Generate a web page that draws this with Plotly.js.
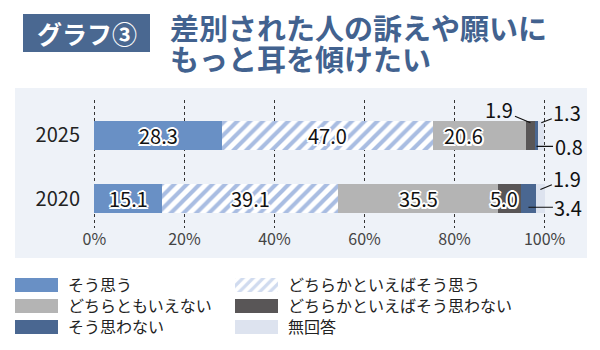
<!DOCTYPE html>
<html>
<head>
<meta charset="utf-8">
<script src="https://cdn.plot.ly/plotly-3.0.1.min.js"></script>
<style>
  html, body { margin: 0; padding: 0; background: #ffffff; }
  #chart { width: 600px; height: 350px; }
</style>
</head>
<body>
<div id="chart"></div>
<script>
// ---- data ----
const years = ['2020', '2025'];
const seriesNames = ['そう思う', 'どちらかといえばそう思う', 'どちらともいえない', 'どちらかといえばそう思わない', 'そう思わない', '無回答'];
const agree = [15.1, 28.3];
const ratherAgree = [39.1, 47.0];
const neutral = [35.5, 20.6];
const ratherDisagree = [5.0, 1.9];
const disagree = [3.4, 0.8];
const noAnswer = [1.9, 1.3];
const xTickVals = [0, 20, 40, 60, 80, 100];
const xTickText = ['0%', '20%', '40%', '60%', '80%', '100%'];
const titleTag = 'グラフ③';
const titleLine1 = '差別された人の訴えや願いに';
const titleLine2 = 'もっと耳を傾けたい';

// ---- style ----
const allSeries = [agree, ratherAgree, neutral, ratherDisagree, disagree, noAnswer];
const colors = ['#6990c5', '#ffffff', '#b4b4b4', '#595657', '#4a6791', '#dde3ef'];
const FONT = '"Noto Sans CJK JP", "Noto Sans", sans-serif';
const outline = '#fff 2px 0 0, #fff -2px 0 0, #fff 0 2px 0, #fff 0 -2px 0, #fff 1.5px 1.5px 0, #fff -1.5px -1.5px 0, #fff 1.5px -1.5px 0, #fff -1.5px 1.5px 0';
const BAR_W = 0.457;

// plot-area geometry helpers (pixels -> paper)
const PL = 93, PR = 546, PT = 100, PB = 228;
const fx = p => (p - PL) / (PR - PL);
const fy = p => (PB - p) / (PB - PT);

const traces = allSeries.map((vals, i) => {
  const t = {
    type: 'bar',
    orientation: 'h',
    name: seriesNames[i],
    y: years,
    x: vals,
    width: BAR_W,
    marker: { color: colors[i], line: { width: 0 } },
    hoverinfo: 'skip'
  };
  if (i === 1) {
    t.marker.pattern = { shape: '/', fgcolor: '#a9bde2', bgcolor: '#ffffff', size: 9, solidity: 0.45 };
  }
  return t;
});

// label placement styles
const insideShift = { '1-2': -16, '0-3': -6 };          // "yearIndex-seriesIndex": px shift
const callouts = {                                        // small segments labelled outside
  '1-3': [0.2, -31, -13],
  '1-5': [0.2, 26, -10],
  '1-4': [-0.17, 32, 0],
  '0-5': [0.15, 27, -11],
  '0-4': [-0.13, 40, 0]
};

const annotations = [];
years.forEach((yr, yi) => {
  let start = 0;
  allSeries.forEach((vals, si) => {
    const v = vals[yi];
    const key = yi + '-' + si;
    const mid = start + v / 2;
    if (callouts[key]) {
      const [dy, ax, ay] = callouts[key];
      annotations.push({
        x: mid, y: yi + dy, xref: 'x', yref: 'y',
        text: v.toFixed(1), showarrow: true, arrowhead: 0, arrowwidth: 1.2, arrowcolor: '#111',
        ax: ax, ay: ay, standoff: 0, startstandoff: 0,
        font: { family: FONT, size: 20, color: '#111' }
      });
    } else {
      annotations.push({
        x: mid, y: yi, xref: 'x', yref: 'y', xshift: insideShift[key] || 0,
        text: v.toFixed(1), showarrow: false,
        font: { family: FONT, size: 20, color: '#111', shadow: outline }
      });
    }
    start += v;
  });
});

// title
annotations.push({
  xref: 'paper', yref: 'paper', x: fx(86.5), y: fy(33), xanchor: 'center', yanchor: 'middle',
  text: titleTag, showarrow: false, font: { family: FONT, size: 25, color: '#ffffff', weight: 700 }
});
annotations.push({
  xref: 'paper', yref: 'paper', x: fx(168), y: fy(27), xanchor: 'left', yanchor: 'middle',
  text: titleLine1, showarrow: false, font: { family: FONT, size: 29, color: '#42628f', weight: 700 }
});
annotations.push({
  xref: 'paper', yref: 'paper', x: fx(168), y: fy(58), xanchor: 'left', yanchor: 'middle',
  text: titleLine2, showarrow: false, font: { family: FONT, size: 29, color: '#42628f', weight: 700 }
});

const shapes = [
  { type: 'rect', xref: 'paper', yref: 'paper', x0: fx(15), x1: fx(587), y0: fy(258), y1: fy(88),
    fillcolor: '#eef2f8', line: { width: 0 }, layer: 'below' },
  { type: 'rect', xref: 'paper', yref: 'paper', x0: fx(23), x1: fx(150), y0: fy(52), y1: fy(14),
    fillcolor: '#4a6891', line: { width: 0 }, layer: 'below' }
];

const layout = {
  width: 600, height: 350,
  margin: { l: PL, r: 600 - PR, t: PT, b: 350 - PB, pad: 0, autoexpand: false },
  paper_bgcolor: '#ffffff',
  plot_bgcolor: 'rgba(0,0,0,0)',
  barmode: 'stack',
  font: { family: FONT, color: '#222' },
  xaxis: {
    range: [-0.3, 100.3], tickvals: xTickVals, ticktext: xTickText,
    showgrid: true, gridcolor: '#333', griddash: 'dot', gridwidth: 1,
    zeroline: false, showline: false, ticks: '', automargin: false,
    tickfont: { family: FONT, size: 16, color: '#444' }, fixedrange: true
  },
  yaxis: {
    type: 'category', range: [-0.457, 1.559], showgrid: false, zeroline: false, showline: false,
    ticks: '', ticklabelstandoff: 12, automargin: false,
    tickfont: { family: FONT, size: 20, color: '#222' }, fixedrange: true
  },
  showlegend: true,
  legend: {
    orientation: 'h', x: fx(5), y: fy(268), xanchor: 'left', yanchor: 'top',
    entrywidth: 152, entrywidthmode: 'pixels', itemwidth: 53, traceorder: 'normal',
    font: { family: FONT, size: 16, color: '#222' }, bgcolor: 'rgba(0,0,0,0)', borderwidth: 0,
    itemclick: false, itemdoubleclick: false
  },
  annotations: annotations,
  shapes: shapes
};

const ROW = 21;
function fixLegend(gd) {
  const leg = gd.querySelector('.legend');
  if (!leg) return;
  leg.querySelectorAll('[clip-path]').forEach(el => el.removeAttribute('clip-path'));
  const items = Array.from(leg.querySelectorAll('.traces'));
  const parse = g => /translate\(\s*([-\d.e]+)[ ,]+([-\d.e]+)\s*\)/.exec(g.getAttribute('transform') || '');
  const ys = [];
  items.forEach(g => { const m = parse(g); if (m) ys.push(+m[2]); });
  const uniq = Array.from(new Set(ys)).sort((a, b) => a - b);
  items.forEach((g, idx) => {
    const m = parse(g);
    if (m) {
      const row = uniq.indexOf(+m[2]);
      g.setAttribute('transform', 'translate(' + m[1] + ',' + (uniq[0] + row * ROW) + ')');
    }
    g.querySelectorAll('.legendpoints path').forEach(p => {
      const d = p.getAttribute('d') || '';
      if (d.indexOf('M6,6H-6V-6H6Z') === 0) p.setAttribute('d', 'M21.5,7H-21.5V-7H21.5Z');
      if (idx === 1) p.style.opacity = '0.55';
    });
  });
}

Plotly.newPlot('chart', traces, layout, { displayModeBar: false, staticPlot: true }).then(gd => {
  fixLegend(gd);
  gd.on('plotly_afterplot', () => fixLegend(gd));
});
</script>
</body>
</html>
